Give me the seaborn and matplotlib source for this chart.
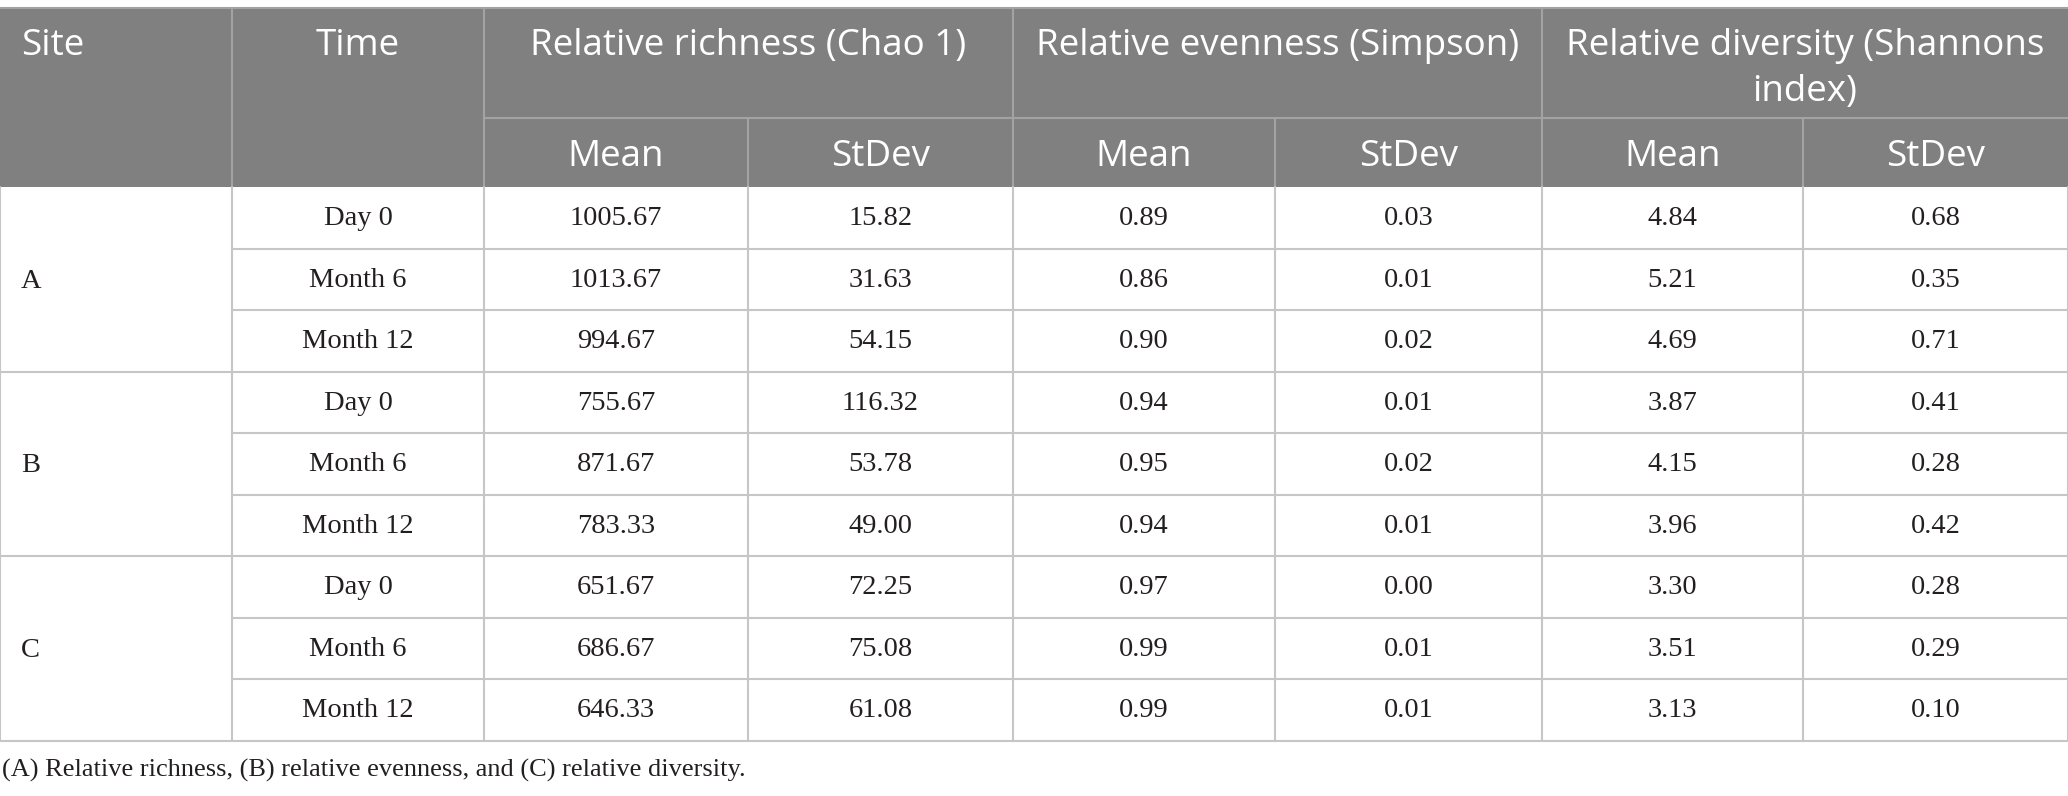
import numpy as np
import pandas as pd
import matplotlib
matplotlib.use("Agg")
import matplotlib.pyplot as plt
import seaborn as sns

sites = ["A", "B", "C"]
times = ["Day 0", "Month 6", "Month 12"]
groups = ["Relative richness (Chao 1)", "Relative evenness (Simpson)",
          "Relative diversity (Shannons\nindex)"]
sub_labels = ["Mean", "StDev"]

richness_mean = [1005.67, 1013.67, 994.67, 755.67, 871.67, 783.33, 651.67, 686.67, 646.33]
richness_sd = [15.82, 31.63, 54.15, 116.32, 53.78, 49.00, 72.25, 75.08, 61.08]
evenness_mean = [0.89, 0.86, 0.90, 0.94, 0.95, 0.94, 0.97, 0.99, 0.99]
evenness_sd = [0.03, 0.01, 0.02, 0.01, 0.02, 0.01, 0.00, 0.01, 0.01]
diversity_mean = [4.84, 5.21, 4.69, 3.87, 4.15, 3.96, 3.30, 3.51, 3.13]
diversity_sd = [0.68, 0.35, 0.71, 0.41, 0.28, 0.42, 0.28, 0.29, 0.10]

footnote = "(A) Relative richness, (B) relative evenness, and (C) relative diversity."

df = pd.DataFrame({
    "Site": np.repeat(sites, len(times)),
    "Time": times * len(sites),
    "rich_mean": richness_mean, "rich_sd": richness_sd,
    "even_mean": evenness_mean, "even_sd": evenness_sd,
    "div_mean": diversity_mean, "div_sd": diversity_sd,
})
value_cols = ["rich_mean", "rich_sd", "even_mean", "even_sd", "div_mean", "div_sd"]

sns.set_theme(style="white")

W, H = 2068, 796
fig = plt.figure(figsize=(W / 100, H / 100), dpi=100)
ax = fig.add_axes([0, 0, 1, 1])
ax.set_xlim(0, W)
ax.set_ylim(H, 0)
ax.axis("off")

# layout (pixels)
col_x = [0, 232, 484, 748, 1013, 1275, 1542, 1803, 2068]
y_top, y_split, y_head = 8, 118, 187
row_h = 61.5
n_rows = len(df)
y_bottom = y_head + n_rows * row_h

head_bg = "#808080"
head_line = "#a3a3a3"
grid = "#c6c6c6"
txt = "#231f20"
head_font = "Open Sans"
body_font = "Liberation Serif"
hfs, bfs, ffs = 26.5, 20.5, 19

# header background
ax.add_patch(plt.Rectangle((0, y_top), W, y_head - y_top, color=head_bg, lw=0))
ax.plot([0, W], [y_top, y_top], color=head_line, lw=1.5)
ax.plot([col_x[2], W], [y_split, y_split], color=head_line, lw=1.5)
for i, x in enumerate(col_x[1:-1], start=1):
    y0 = y_top if i % 2 == 0 or i == 1 else y_split
    ax.plot([x, x], [y0, y_head], color=head_line, lw=1.5)

# header text
ax.text(21, 46, "Site", color="white", fontsize=hfs, family=head_font,
        ha="left", va="center")
ax.text((col_x[1] + col_x[2]) / 2, 46, "Time", color="white", fontsize=hfs,
        family=head_font, ha="center", va="center")
for g, name in enumerate(groups):
    x0, x1 = col_x[2 + 2 * g], col_x[4 + 2 * g]
    if "\n" in name:
        ax.text((x0 + x1) / 2, 69, name, color="white", fontsize=hfs,
                family=head_font, ha="center", va="center", ma="center",
                linespacing=1.38)
    else:
        ax.text((x0 + x1) / 2, 46, name, color="white", fontsize=hfs,
                family=head_font, ha="center", va="center")
    for k, lab in enumerate(sub_labels):
        xa, xb = col_x[2 + 2 * g + k], col_x[3 + 2 * g + k]
        ax.text((xa + xb) / 2, 157, lab, color="white", fontsize=hfs,
                family=head_font, ha="center", va="center")

# body grid
for x in col_x:
    ax.plot([x, x], [y_head, y_bottom], color=grid, lw=1.5)
for r in range(1, n_rows + 1):
    y = y_head + r * row_h
    x0 = 0 if r % len(times) == 0 else col_x[1]
    ax.plot([x0, W], [y, y], color=grid, lw=1.5)

# body text
for s, site in enumerate(sites):
    yc = y_head + (s * len(times) + len(times) / 2) * row_h
    ax.text(21, yc + 2, site, color=txt, fontsize=bfs, family=body_font,
            ha="left", va="center")
for r, row in df.iterrows():
    yc = y_head + (r + 0.5) * row_h + 1
    ax.text((col_x[1] + col_x[2]) / 2, yc, row["Time"], color=txt, fontsize=bfs,
            family=body_font, ha="center", va="center")
    for c, col in enumerate(value_cols):
        xa, xb = col_x[2 + c], col_x[3 + c]
        ax.text((xa + xb) / 2, yc, f"{row[col]:.2f}", color=txt, fontsize=bfs,
                family=body_font, ha="center", va="center")

ax.text(2, 770, footnote, color=txt, fontsize=ffs, family=body_font,
        ha="left", va="center")

fig.savefig("out.png", dpi=100)
